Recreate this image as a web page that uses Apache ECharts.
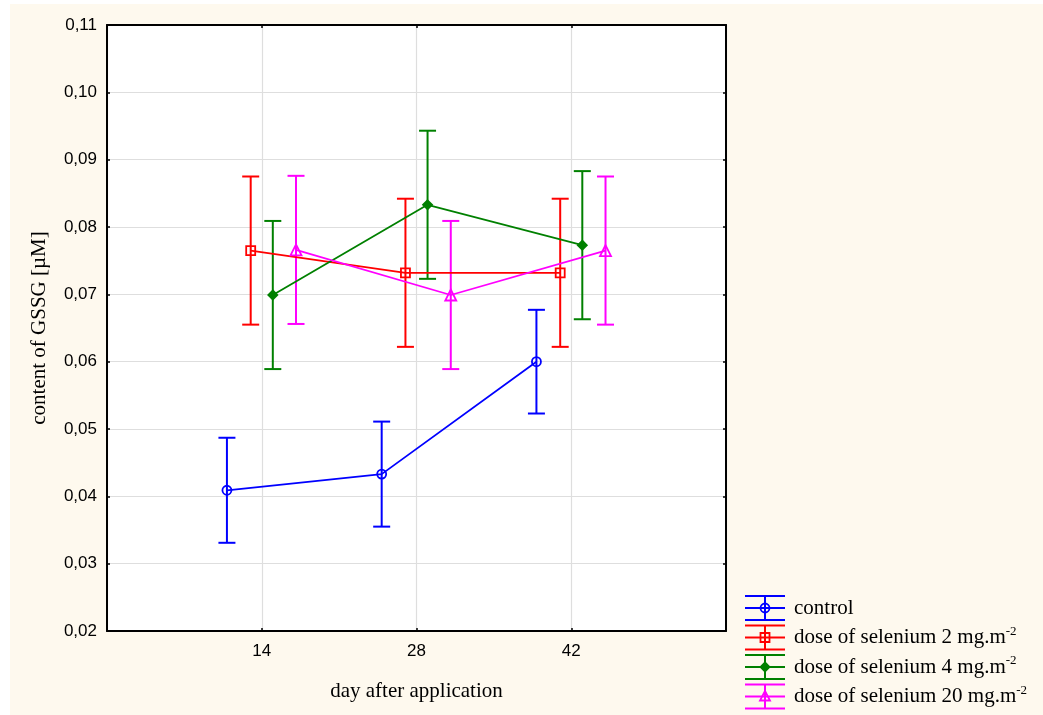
<!DOCTYPE html>
<html>
<head>
<meta charset="utf-8">
<script src="https://cdn.jsdelivr.net/npm/echarts@6/dist/echarts.min.js"></script>
<style>
html,body{margin:0;padding:0;background:#fff;}
#chart{width:1043px;height:715px;}
</style>
</head>
<body>
<div id="chart"></div>
<script>
// ---- data ----
const days = [14, 28, 42];
const yTicks = [0.02, 0.03, 0.04, 0.05, 0.06, 0.07, 0.08, 0.09, 0.10, 0.11];

const controlMean = [0.0409, 0.0433, 0.0600];
const controlErr  = [0.0078, 0.0078, 0.0077];
const se2Mean  = [0.0765, 0.0732, 0.0732];
const se2Err   = [0.0110, 0.0110, 0.0110];
const se4Mean  = [0.0699, 0.0833, 0.0773];
const se4Err   = [0.0110, 0.0110, 0.0110];
const se20Mean = [0.0766, 0.0699, 0.0765];
const se20Err  = [0.0110, 0.0110, 0.0110];

const seriesNames = ['control', 'dose of selenium 2 mg.m', 'dose of selenium 4 mg.m', 'dose of selenium 20 mg.m'];
const seriesSup   = ['', '-2', '-2', '-2'];

// ---- styling / layout ----
const colors  = ['#0000FF', '#FF0000', '#008000', '#FF00FF'];
const markers = ['circle', 'square', 'diamond', 'triangle'];
const dodge   = [-3.15, -1.0, 1.0, 3.1];
const means = [controlMean, se2Mean, se4Mean, se20Mean];
const errs  = [controlErr, se2Err, se4Err, se20Err];

const serif = '"Liberation Serif", "Times New Roman", serif';
const sans = '"Liberation Sans", Arial, sans-serif';

function symbolFor(kind) {
  if (kind === 'square') return 'rect';
  return kind;
}

const series = [];
means.forEach((m, s) => {
  const c = colors[s];
  series.push({
    type: 'custom',
    name: seriesNames[s] + '_err',
    z: 3,
    renderItem: function (params, api) {
      const x = api.value(0), lo = api.value(1), hi = api.value(2);
      const pLo = api.coord([x, lo]);
      const pHi = api.coord([x, hi]);
      const hw = 8.5;
      const st = { stroke: c, lineWidth: 2 };
      return {
        type: 'group',
        children: [
          { type: 'line', shape: { x1: pLo[0], y1: pLo[1], x2: pHi[0], y2: pHi[1] }, style: st },
          { type: 'line', shape: { x1: pLo[0] - hw, y1: pLo[1], x2: pLo[0] + hw, y2: pLo[1] }, style: st },
          { type: 'line', shape: { x1: pHi[0] - hw, y1: pHi[1], x2: pHi[0] + hw, y2: pHi[1] }, style: st }
        ]
      };
    },
    encode: { x: 0, y: [1, 2] },
    data: days.map((d, i) => [d + dodge[s], m[i] - errs[s][i], m[i] + errs[s][i]])
  });
  const isDiamond = markers[s] === 'diamond';
  series.push({
    type: 'line',
    name: seriesNames[s],
    z: 4,
    data: days.map((d, i) => [d + dodge[s], m[i]]),
    symbol: symbolFor(markers[s]),
    symbolSize: markers[s] === 'triangle' ? 11 : 9,
    showSymbol: true,
    lineStyle: { color: c, width: 1.8 },
    itemStyle: { color: isDiamond ? c : 'rgba(255,255,255,0)', borderColor: c, borderWidth: 1.8 },
    emphasis: { disabled: true },
    animation: false
  });
});

// ---- legend drawn as graphic ----
const legendX = 745, legendW = 40, legendTop = 608, legendStep = 29.5, capOff = 12;
const legendChildren = [];
seriesNames.forEach((nm, s) => {
  const cy = legendTop + legendStep * s;
  const c = colors[s];
  const st = { stroke: c, lineWidth: 2 };
  const mid = legendX + legendW / 2;
  legendChildren.push({ type: 'line', shape: { x1: legendX, y1: cy - capOff, x2: legendX + legendW, y2: cy - capOff }, style: st });
  legendChildren.push({ type: 'line', shape: { x1: legendX, y1: cy, x2: legendX + legendW, y2: cy }, style: st });
  legendChildren.push({ type: 'line', shape: { x1: legendX, y1: cy + capOff, x2: legendX + legendW, y2: cy + capOff }, style: st });
  legendChildren.push({ type: 'line', shape: { x1: mid, y1: cy - capOff, x2: mid, y2: cy + capOff }, style: st });
  const ms = { stroke: c, lineWidth: 1.8, fill: 'rgba(0,0,0,0)' };
  const k = markers[s];
  if (k === 'circle') legendChildren.push({ type: 'circle', shape: { cx: mid, cy: cy, r: 4.5 }, style: ms });
  else if (k === 'square') legendChildren.push({ type: 'rect', shape: { x: mid - 4.5, y: cy - 4.5, width: 9, height: 9 }, style: ms });
  else if (k === 'diamond') legendChildren.push({ type: 'polygon', shape: { points: [[mid, cy - 4.5], [mid + 4.5, cy], [mid, cy + 4.5], [mid - 4.5, cy]] }, style: { stroke: c, lineWidth: 1.8, fill: c } });
  else legendChildren.push({ type: 'polygon', shape: { points: [[mid, cy - 5.5], [mid + 5, cy + 4], [mid - 5, cy + 4]] }, style: ms });
  legendChildren.push({
    type: 'text',
    x: 794, y: cy,
    style: {
      text: seriesSup[s] ? '{a|' + nm + '}{s|' + seriesSup[s] + '}' : '{a|' + nm + '}',
      rich: {
        a: { fontFamily: serif, fontSize: 21, fill: '#000' },
        s: { fontFamily: serif, fontSize: 13, fill: '#000', verticalAlign: 'top', padding: [0, 0, 12, 0] }
      },
      verticalAlign: 'middle', align: 'left'
    }
  });
});

const chart = echarts.init(document.getElementById('chart'), null, { renderer: 'canvas' });
const tickStyle = { show: true, inside: true, length: 3, lineStyle: { color: '#000', width: 1.5 } };
const option = {
  animation: false,
  backgroundColor: '#FEF9EE',
  grid: { left: 107, top: 25, width: 619, height: 606, show: true, backgroundColor: '#fff', borderWidth: 0 },
  xAxis: [{
    type: 'value', min: 0, max: 56, interval: 14,
    name: 'day after application', nameLocation: 'middle', nameGap: 50,
    nameTextStyle: { fontFamily: serif, fontSize: 21, color: '#000' },
    axisLine: { show: true, onZero: false, lineStyle: { color: '#000', width: 2 } },
    axisTick: tickStyle,
    axisLabel: { fontFamily: sans, fontSize: 17, color: '#000', margin: 12,
      formatter: v => (days.indexOf(v) >= 0 ? String(v) : '') },
    splitLine: { show: true, lineStyle: { color: '#dedede', width: 1.2 } }
  }, {
    type: 'value', min: 0, max: 56, interval: 14, position: 'top',
    axisLine: { show: true, onZero: false, lineStyle: { color: '#000', width: 2 } },
    axisTick: tickStyle,
    axisLabel: { show: false }, splitLine: { show: false }
  }],
  yAxis: [{
    type: 'value', min: yTicks[0], max: yTicks[yTicks.length - 1], interval: 0.01,
    name: 'content of GSSG [µM]', nameLocation: 'middle', nameGap: 57, nameRotate: 90,
    nameTextStyle: { fontFamily: serif, fontSize: 21, color: '#000' },
    axisLine: { show: true, onZero: false, lineStyle: { color: '#000', width: 2 } },
    axisTick: tickStyle,
    axisLabel: { fontFamily: sans, fontSize: 17, color: '#000', margin: 10,
      formatter: v => v.toFixed(2).replace('.', ',') },
    splitLine: { show: true, lineStyle: { color: '#dedede', width: 1.2 } }
  }, {
    type: 'value', min: yTicks[0], max: yTicks[yTicks.length - 1], interval: 0.01, position: 'right',
    axisLine: { show: true, onZero: false, lineStyle: { color: '#000', width: 2 } },
    axisTick: tickStyle,
    axisLabel: { show: false }, splitLine: { show: false }
  }],
  graphic: [
    { type: 'rect', left: 0, top: 0, shape: { width: 1043, height: 4 }, style: { fill: '#fff' }, silent: true },
    { type: 'rect', left: 0, top: 0, shape: { width: 10, height: 715 }, style: { fill: '#fff' }, silent: true },
    { type: 'group', left: 0, top: 0, children: legendChildren, silent: true, bounding: 'raw' }
  ],
  series: series
};
chart.setOption(option);
</script>
</body>
</html>
